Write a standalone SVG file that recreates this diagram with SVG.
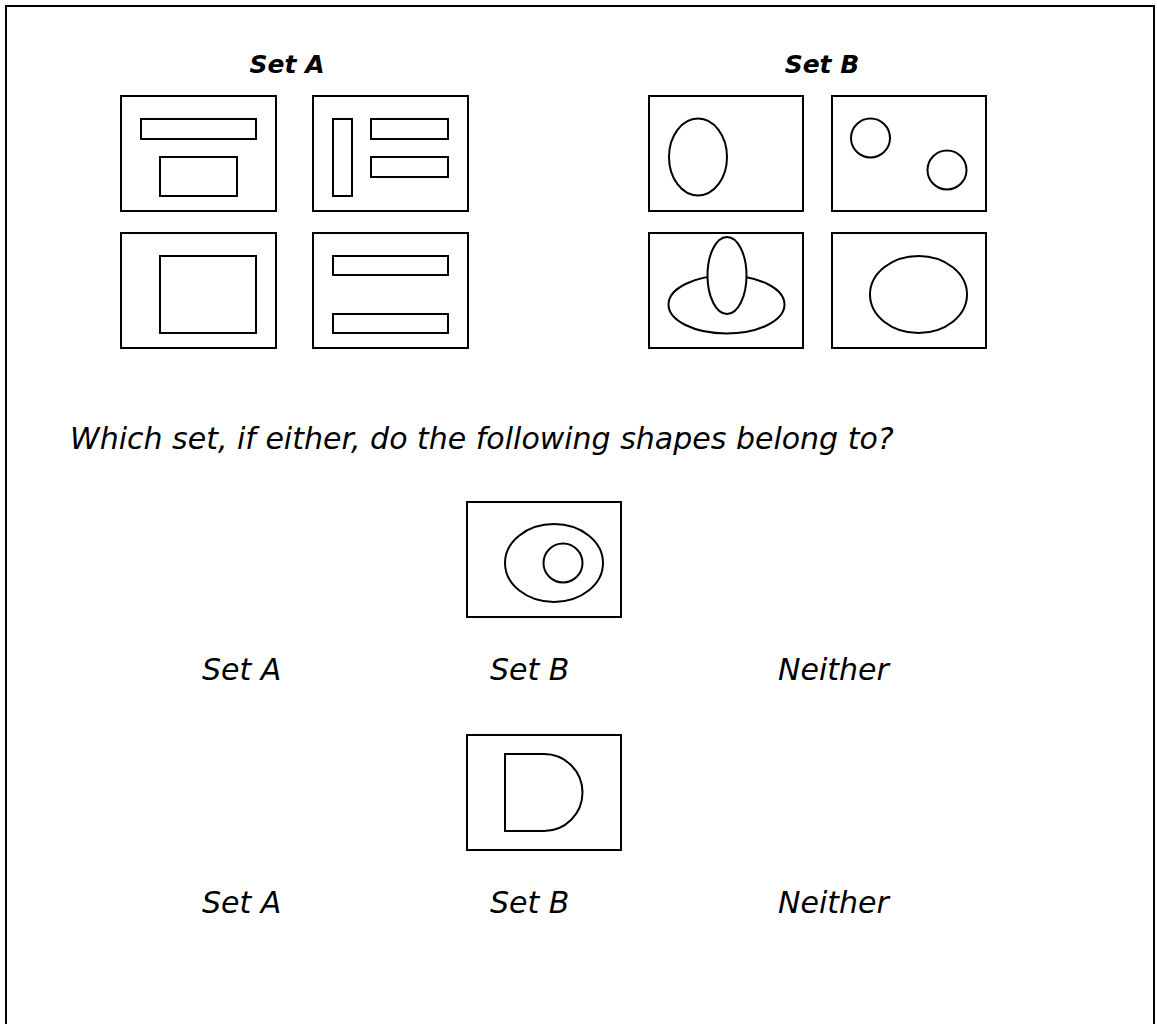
<svg xmlns="http://www.w3.org/2000/svg" width="1157" height="1024" viewBox="0 0 1157 1024">
<style>
.s{fill:#fff;stroke:#000;stroke-width:2}
.h{font-family:"DejaVu Sans",Verdana,sans-serif;font-weight:bold;font-style:italic;font-size:25px;fill:#000}
.t{font-family:"DejaVu Sans",Verdana,sans-serif;font-style:italic;font-size:30px;fill:#000}
</style>
<rect x="0" y="0" width="1157" height="1024" fill="#fff"/>
<rect id="border" x="6" y="6" width="1148" height="1030" fill="none" stroke="#000" stroke-width="2"/>
<text class="h" x="287" y="73" text-anchor="middle">Set A</text>
<text class="h" x="822" y="73" text-anchor="middle">Set B</text>
<g id="a1"><rect class="s" x="121" y="96" width="155" height="115"/><rect class="s" x="141" y="119" width="115" height="20"/><rect class="s" x="160" y="157" width="77" height="39"/></g>
<g id="a2"><rect class="s" x="313" y="96" width="155" height="115"/><rect class="s" x="333" y="119" width="19" height="77"/><rect class="s" x="371" y="119" width="77" height="20"/><rect class="s" x="371" y="157" width="77" height="20"/></g>
<g id="a3"><rect class="s" x="121" y="233" width="155" height="115"/><rect class="s" x="160" y="256" width="96" height="77"/></g>
<g id="a4"><rect class="s" x="313" y="233" width="155" height="115"/><rect class="s" x="333" y="256" width="115" height="19"/><rect class="s" x="333" y="314" width="115" height="19"/></g>
<g id="b1"><rect class="s" x="649" y="96" width="154" height="115"/><ellipse class="s" cx="698" cy="157" rx="29" ry="38.5"/></g>
<g id="b2"><rect class="s" x="832" y="96" width="154" height="115"/><circle class="s" cx="870.5" cy="138" r="19.5"/><circle class="s" cx="947" cy="170" r="19.5"/></g>
<g id="b3"><rect class="s" x="649" y="233" width="154" height="115"/><ellipse class="s" cx="726.5" cy="304.5" rx="58" ry="29"/><ellipse class="s" cx="727" cy="275.5" rx="19.5" ry="38.5"/></g>
<g id="b4"><rect class="s" x="832" y="233" width="154" height="115"/><ellipse class="s" cx="918.5" cy="294.5" rx="48.5" ry="38.5"/></g>
<text class="t" x="70" y="449">Which set, if either, do the following shapes belong to?</text>
<g id="q1"><rect class="s" x="467" y="502" width="154" height="115"/><ellipse class="s" cx="554" cy="563" rx="49" ry="39"/><circle class="s" cx="563" cy="563" r="19.5"/></g>
<text class="t" x="202" y="680">Set A</text>
<text class="t" x="490" y="680">Set B</text>
<text class="t" x="778" y="680">Neither</text>
<g id="q2"><rect class="s" x="467" y="735" width="154" height="115"/><path class="s" d="M505,754 H544 A38.5,38.5 0 0 1 544,831 H505 Z"/></g>
<text class="t" x="202" y="913">Set A</text>
<text class="t" x="490" y="913">Set B</text>
<text class="t" x="778" y="913">Neither</text>
</svg>
